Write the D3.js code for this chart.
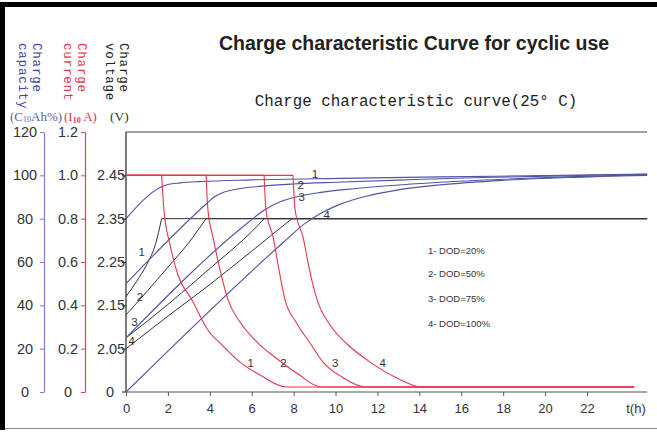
<!DOCTYPE html>
<html><head><meta charset="utf-8">
<script src="https://cdn.jsdelivr.net/npm/d3@7"></script>
<style>
html,body{margin:0;padding:0;background:#fff;}
svg{display:block;}
</style></head>
<body>
<svg id="chart" width="657" height="441"></svg>
<script>
// ---------- data ----------
const timeTicks = [0,2,4,6,8,10,12,14,16,18,20,22];
const capTicks = [0,20,40,60,80,100,120];
const curTicks = [0,0.2,0.4,0.6,0.8,1.0,1.2];
const voltTicks = [2.05,2.15,2.25,2.35,2.45];
const legendLabels = ["1- DOD=20%","2- DOD=50%","3- DOD=75%","4- DOD=100%"];
const curveNames = ["1","2","3","4"];

// charge current (x I10 A) vs time (h)
const currentDOD20  = [[0,1],[1.70,1],[1.81,0.84],[2.10,0.68],[2.48,0.54],[3.15,0.425],[3.91,0.286],[4.58,0.217],[5.44,0.138],[6.40,0.078],[7.63,0.023],[24.25,0.023]];
const currentDOD50  = [[0,1],[3.82,1],[3.91,0.84],[4.15,0.715],[4.49,0.563],[4.87,0.425],[5.44,0.323],[6.30,0.226],[7.16,0.157],[8.21,0.083],[9.31,0.023],[24.25,0.023]];
const currentDOD75  = [[0,1],[6.59,1],[6.68,0.84],[7.02,0.715],[7.26,0.586],[7.59,0.425],[8.11,0.323],[8.78,0.226],[9.40,0.138],[10.31,0.069],[11.41,0.023],[24.25,0.023]];
const currentDOD100 = [[0,1],[7.97,1],[8.07,0.84],[8.45,0.715],[8.74,0.572],[9.12,0.425],[9.74,0.309],[10.60,0.217],[11.65,0.138],[12.84,0.069],[14.13,0.023],[24.25,0.023]];

// charge capacity (% C10Ah) vs time (h)
const capDOD20  = [[0,80],[1.65,94.5],[2.0,95.8],[2.6,96.5],[3.5,97.1],[6,97.9],[10.2,98.6],[15,99.3],[20,99.9],[24.87,100.6]];
const capDOD50  = [[0,50],[3.85,87],[4.2,90],[4.6,92],[5.2,93.5],[6.5,95],[8,96],[10,96.8],[13,97.8],[17,99],[21,99.8],[24.87,100.5]];
const capDOD75  = [[0,25],[5.8,78],[6.6,84],[7.3,87.6],[8.2,90.2],[9.2,92],[10.5,93.5],[12.5,95.2],[15,96.8],[18,98.2],[21,99.3],[24.87,100.3]];
const capDOD100 = [[0,0],[7.5,69],[8.5,77.5],[9.3,82.5],[10.2,86.6],[11.5,90.5],[13,93.3],[15,95.6],[18,97.7],[21,99],[24.87,100]];

// charge voltage (V/cell) vs time (h)
const voltDOD20  = [[0,2.17],[0.5,2.205],[1.0,2.245],[1.4,2.29],[1.7,2.35],[24.87,2.35]];
const voltDOD50  = [[0,2.128],[1,2.182],[2,2.238],[3,2.295],[3.82,2.35],[24.87,2.35]];
const voltDOD75  = [[0,2.075],[2,2.152],[4,2.235],[6,2.32],[6.6,2.35],[24.87,2.35]];
const voltDOD100 = [[0,2.05],[2,2.125],[4,2.198],[6,2.275],[7.92,2.35],[24.87,2.35]];

const tEnd = 24.87;

// ---------- layout ----------
const svg = d3.select("#chart");
const BLUE = "#4f55a3", RED = "#e5364c", DARK = "#333";
const x = d3.scaleLinear().domain([0,22]).range([126,587]);
const yCap = d3.scaleLinear().domain([0,120]).range([392,132]);
const yCur = d3.scaleLinear().domain([0,1.2]).range([392,132]);
const yVolt = d3.scaleLinear().domain([1.95,2.55]).range([392,132]);

// frame
svg.append("rect").attr("x",0).attr("y",2).attr("width",657).attr("height",5).attr("fill","#000");
svg.append("rect").attr("x",0).attr("y",2).attr("width",5).attr("height",428).attr("fill","#000");
svg.append("line").attr("x1",5).attr("x2",657).attr("y1",428.5).attr("y2",428.5).attr("stroke","#888").attr("stroke-width",1);

// titles
svg.append("text").attr("x",414).attr("y",50).attr("text-anchor","middle")
  .attr("font-family","Liberation Sans, Arial, sans-serif").attr("font-weight","bold").attr("font-size",19.5)
  .attr("fill","#222").text("Charge characteristic Curve for cyclic use");
svg.append("text").attr("x",416).attr("y",106).attr("text-anchor","middle")
  .attr("font-family","Liberation Mono, DejaVu Sans Mono, monospace").attr("font-size",15.8)
  .attr("fill","#222").text("Charge characteristic curve(25° C)");

// plot frame lines
svg.append("line").attr("x1",x(0)).attr("x2",x(tEnd)).attr("y1",yCap(120)).attr("y2",yCap(120)).attr("stroke","#444").attr("stroke-width",1);
svg.append("line").attr("x1",x(0)).attr("x2",x(tEnd)).attr("y1",yCap(0)).attr("y2",yCap(0)).attr("stroke","#555").attr("stroke-width",1);

// x axis
const gx = svg.append("g").attr("transform",`translate(0,${yCap(0)})`)
  .call(d3.axisBottom(x).tickValues(timeTicks).tickSize(4).tickSizeOuter(0).tickPadding(8).tickFormat(d3.format("d")));
gx.select(".domain").remove();
gx.selectAll(".tick line").attr("stroke","#555");
gx.selectAll("text").attr("font-family","Liberation Sans, Arial, sans-serif").attr("font-size",13).attr("fill",DARK);
svg.append("text").attr("x",636).attr("y",413).attr("text-anchor","middle")
  .attr("font-family","Liberation Sans, Arial, sans-serif").attr("font-size",13).attr("fill",DARK).text("t(h)");

// left axes
function styleAxis(g, color, labelOffset){
  g.select(".domain").attr("stroke",color).attr("stroke-width",1.2);
  g.selectAll(".tick line").attr("stroke",color);
  g.selectAll("text").attr("font-family","Liberation Sans, Arial, sans-serif").attr("font-size",14.5)
   .attr("fill",DARK).attr("text-anchor","middle").attr("x",labelOffset);
}
const gCap = svg.append("g").attr("transform","translate(44,0)")
  .call(d3.axisLeft(yCap).tickValues(capTicks).tickSize(4).tickSizeOuter(0).tickFormat(d3.format("d")));
styleAxis(gCap,"#7b7fc0",-19);
const gCur = svg.append("g").attr("transform","translate(85,0)")
  .call(d3.axisLeft(yCur).tickValues(curTicks).tickSize(4).tickSizeOuter(0).tickFormat(d=>d===0?"0":d.toFixed(1)));
styleAxis(gCur,"#e0404f",-17);
const gVolt = svg.append("g").attr("transform","translate(126,0)")
  .call(d3.axisLeft(yVolt).tickValues(voltTicks).tickSize(4).tickSizeOuter(0).tickFormat(d3.format(".2f")));
styleAxis(gVolt,"#222",-15);
gVolt.select(".domain").remove();
svg.append("line").attr("x1",126).attr("x2",126).attr("y1",yCap(120)).attr("y2",yCap(0)).attr("stroke","#222").attr("stroke-width",1.2);
svg.append("text").attr("x",110).attr("y",yCap(0)).attr("dy","0.32em").attr("text-anchor","middle")
  .attr("font-family","Liberation Sans, Arial, sans-serif").attr("font-size",14.5).attr("fill",DARK).text("0");
svg.append("line").attr("x1",122).attr("x2",126).attr("y1",yCap(0)).attr("y2",yCap(0)).attr("stroke","#222");

// rotated axis headers
function header(xb, txt, color){
  svg.append("text").attr("transform",`translate(${xb},43) rotate(90)`)
    .attr("font-family","Liberation Mono, DejaVu Sans Mono, monospace").attr("font-size",12.5)
    .attr("letter-spacing",0.8).attr("fill",color).text(txt);
}
header(33,"Charge","#3f44a8"); header(19,"capacity","#3f44a8");
header(78,"Charge",RED); header(64,"current",RED);
header(120,"Charge","#222"); header(106,"voltage","#222");

// units
const u1 = svg.append("text").attr("x",10).attr("y",121).attr("font-family","Liberation Serif, Times New Roman, serif")
  .attr("font-size",13).attr("fill","#5a5fb0");
u1.append("tspan").text("(C");
u1.append("tspan").attr("font-size",8).attr("dy",1).text("10");
u1.append("tspan").attr("dy",-1).text("Ah%)");
const u2 = svg.append("text").attr("x",64).attr("y",121).attr("font-family","Liberation Serif, Times New Roman, serif")
  .attr("font-size",13).attr("fill",RED);
u2.append("tspan").text("(I");
u2.append("tspan").attr("font-size",8).attr("font-weight","bold").attr("dy",2).text("10");
u2.append("tspan").attr("dy",-2).text(" A)");
svg.append("text").attr("x",110).attr("y",121).attr("font-family","Liberation Serif, Times New Roman, serif")
  .attr("font-size",13.5).attr("fill",DARK).text("(V)");

// ---------- curves ----------
const smooth = d3.curveMonotoneX;
const lineCur = d3.line().x(d=>x(d[0])).y(d=>yCur(d[1]));
const lineCap = d3.line().x(d=>x(d[0])).y(d=>yCap(d[1]));
const lineVolt = d3.line().x(d=>x(d[0])).y(d=>yVolt(d[1]));

[voltDOD20,voltDOD50,voltDOD75,voltDOD100].forEach(s=>{
  svg.append("path").attr("d",lineVolt.curve(smooth)(s.slice(0,-1))).attr("fill","none").attr("stroke",DARK).attr("stroke-width",1);
  svg.append("path").attr("d",lineVolt.curve(d3.curveLinear)(s.slice(-2))).attr("fill","none").attr("stroke",DARK).attr("stroke-width",1);
});
[capDOD20,capDOD50,capDOD75,capDOD100].forEach(s=>{
  svg.append("path").attr("d",lineCap.curve(smooth)(s)).attr("fill","none").attr("stroke",BLUE).attr("stroke-width",1.1);
});
[currentDOD20,currentDOD50,currentDOD75,currentDOD100].forEach(s=>{
  svg.append("path").attr("d",lineCur.curve(d3.curveLinear)(s.slice(0,2))).attr("fill","none").attr("stroke",RED).attr("stroke-width",1.1);
  svg.append("path").attr("d",lineCur.curve(smooth)(s.slice(1))).attr("fill","none").attr("stroke",RED).attr("stroke-width",1.1);
});

// curve number labels (data-space positions)
const numFont = "Liberation Sans, Arial, sans-serif";
function num(t, lvl, txt){
  svg.append("text").attr("x",x(t)).attr("y",yCap(lvl)).attr("dy","0.35em").attr("text-anchor","middle")
    .attr("font-family",numFont).attr("font-size",11.5).attr("fill",DARK).text(txt);
}
[[9.02,100.6],[8.34,95.5],[8.39,90.1],[9.58,81.7]].forEach((p,i)=>num(p[0],p[1],curveNames[i]));
[[0.75,64.8],[0.67,44],[0.40,32.4],[0.27,23.7]].forEach((p,i)=>num(p[0],p[1],curveNames[i]));
[[5.95,13.5],[7.51,13.5],[9.98,13.5],[12.25,13.5]].forEach((p,i)=>num(p[0],p[1],curveNames[i]));

// legend
[250.7,273.3,298.3,324].forEach((yy,i)=>{
  svg.append("text").attr("x",428).attr("y",yy).attr("dy","0.35em")
    .attr("font-family","Liberation Sans, Arial, sans-serif").attr("font-size",9.5).attr("fill",DARK).text(legendLabels[i]);
});
</script>
</body></html>
